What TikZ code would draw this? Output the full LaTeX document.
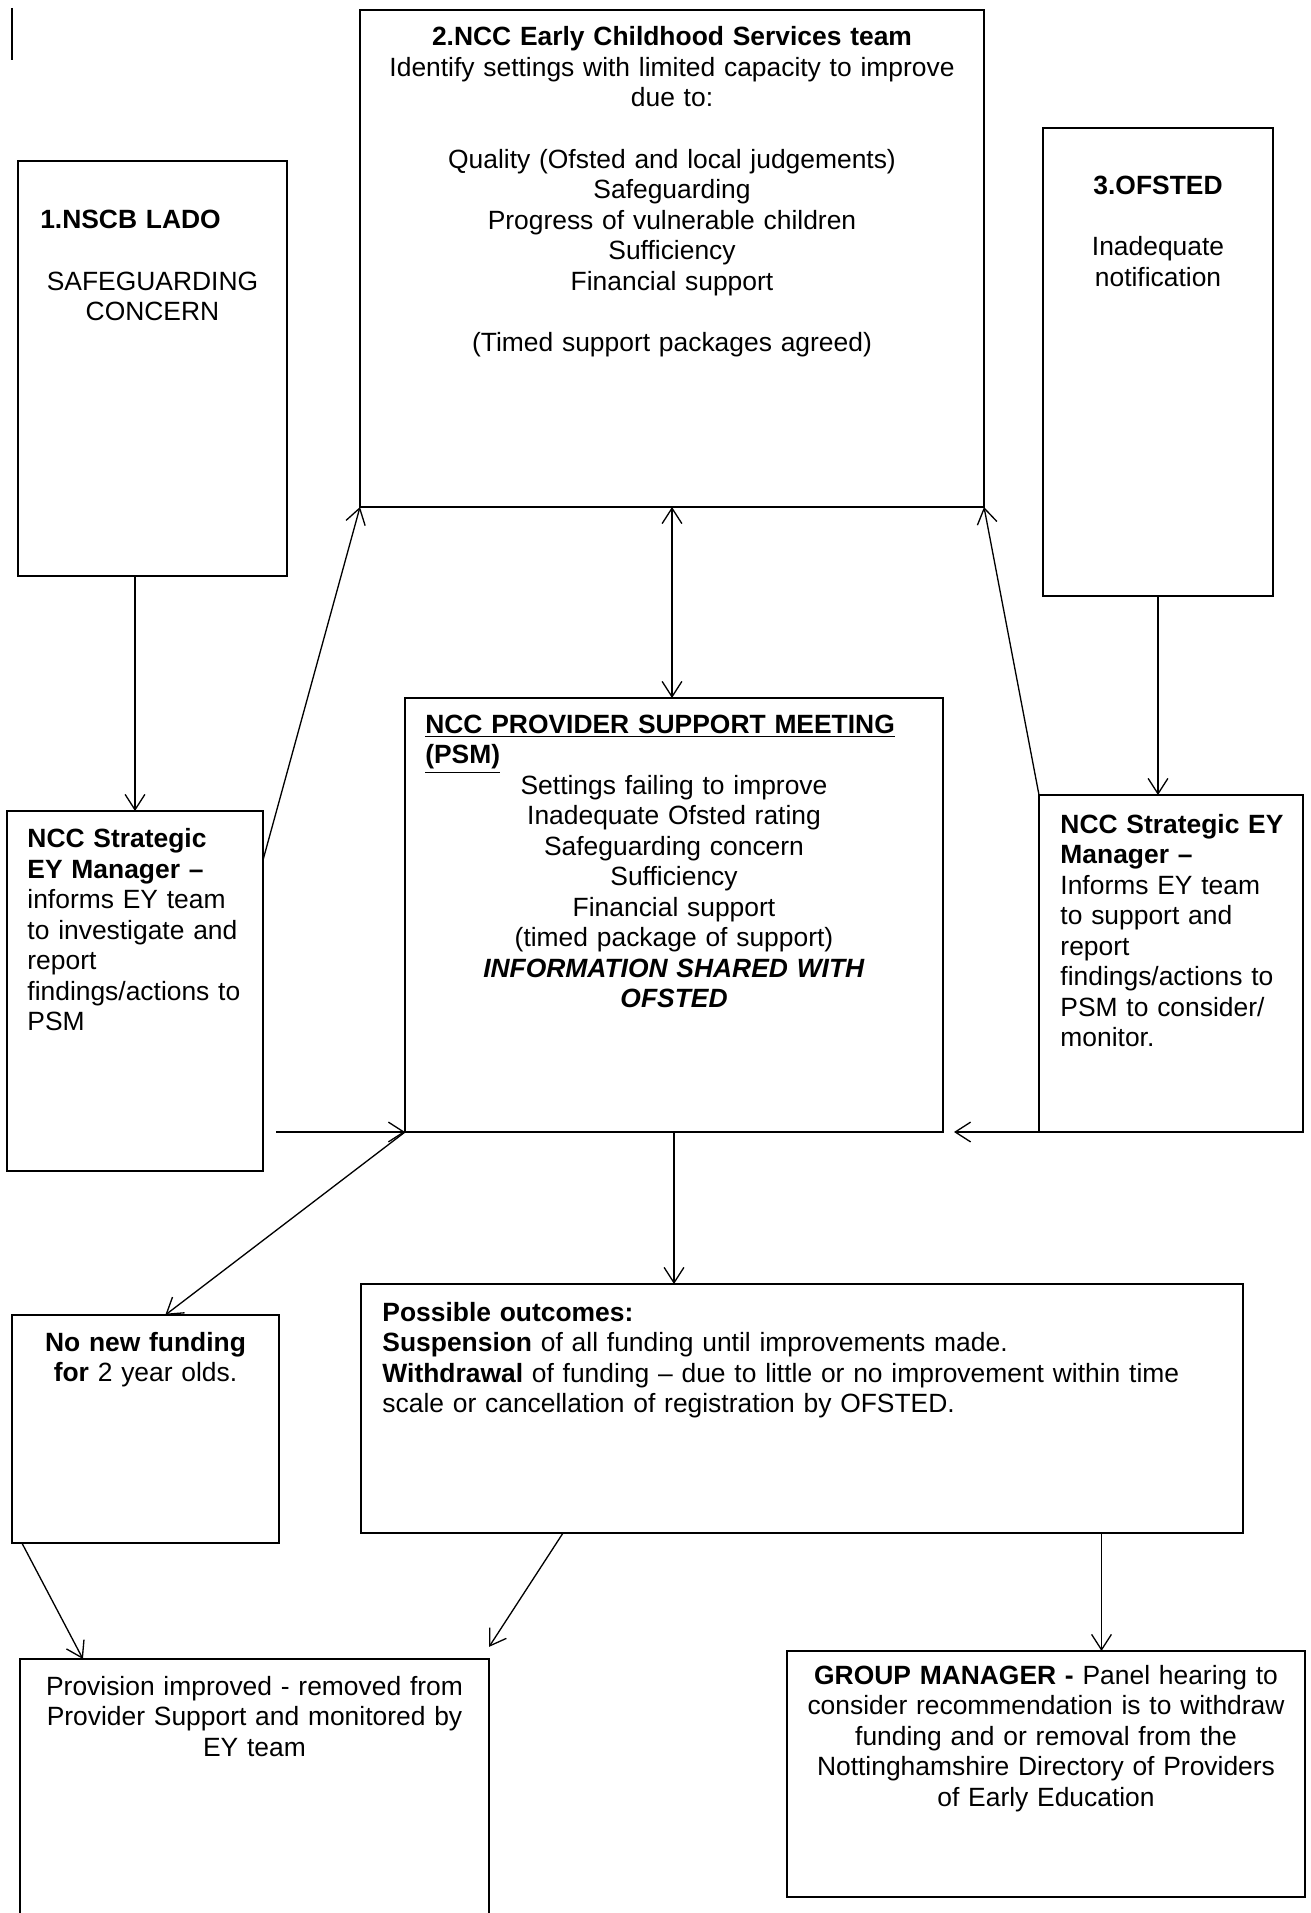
\documentclass[tikz,border=0pt]{standalone}
\usepackage{fontspec}
\setmainfont{Liberation Sans}
\usetikzlibrary{fit,arrows.meta}

\begin{document}
\begin{tikzpicture}[x=0.4544pt,y=-0.4544pt,
  box/.style={draw,line width=0.9pt,inner sep=0pt,outer sep=0pt},
  txt/.style={inner sep=0pt,font=\fontsize{12pt}{13.86pt}\selectfont},
  arr/.style={line width=0.6pt,-{Straight Barb[length=7pt,width=9pt]}},
  arrs/.style={line width=0.6pt,{Straight Barb[length=7pt,width=9pt]}-{Straight Barb[length=7pt,width=9pt]}}]
\useasboundingbox (0,0) rectangle (1310,1913);
%\draw[help lines,step=100] (0,0) grid (1310,1913);
\draw[line width=0.9pt] (12,8) -- (12,60);

% boxes
\node[box,fit={(18,161) (287,576)}] (lado) {};
\node[box,fit={(360,10) (984,507)}] (ncc) {};
\node[box,fit={(1043,128) (1273,596)}] (ofsted) {};
\node[box,fit={(7,811) (263,1171)}] (ladoey) {};
\node[box,fit={(405,698) (943,1132)}] (psm) {};
\node[box,fit={(1039,795) (1303,1132)}] (ofsey) {};
\node[box,fit={(12,1315) (279,1543)}] (nonew) {};
\node[box,fit={(361,1284) (1243,1533)}] (outcomes) {};
\node[box,fit={(20,1659) (489,1930)}] (provision) {};
\node[box,fit={(787,1651) (1305,1897)}] (group) {};

% texts
\node[txt,text width=102pt,align=center,anchor=base] (ladotext) at (152.5,229)
  {\makebox[\linewidth][l]{\textbf{1.NSCB LADO}}\\[13.86pt]
   SAFEGUARDING\\ CONCERN};
\node[txt,text width=272pt,align=center,anchor=base] (ncctext) at (672,46)
  {\textbf{2.NCC Early Childhood Services team}\\
   Identify settings with limited capacity to improve\\
   due to:\\[13.86pt]
   Quality (Ofsted and local judgements)\\
   Safeguarding\\
   Progress of vulnerable children\\
   Sufficiency\\
   Financial support\\[13.86pt]
   (Timed support packages agreed)};
\node[txt,text width=95pt,align=center,anchor=base] (ofstedtext) at (1158,195)
  {\textbf{3.OFSTED}\\[13.86pt] Inadequate\\ notification};
\node[txt,text width=130pt,align=left,anchor=base west] (ladoeytext) at (27,847.5)
  {\textbf{NCC Strategic}\\ \textbf{EY Manager –}\\ informs EY team\\
   to investigate and\\ report\\ findings/actions to\\ PSM};
\node[txt,text width=226pt,align=center,anchor=base] (psmtext) at (674,733)
  {\makebox[\linewidth][l]{\underline{\textbf{NCC PROVIDER SUPPORT MEETING}}}\\
   \makebox[\linewidth][l]{\underline{\textbf{(PSM)}}}\\
   Settings failing to improve\\
   Inadequate Ofsted rating\\
   Safeguarding concern\\
   Sufficiency\\
   Financial support\\
   (timed package of support)\\
   \textbf{\textit{INFORMATION SHARED WITH}}\\
   \textbf{\textit{OFSTED}}};
\node[txt,text width=130pt,align=left,anchor=base west] (ofseytext) at (1060,833)
  {\textbf{NCC Strategic EY}\\ \textbf{Manager –}\\ Informs EY team\\
   to support and\\ report\\ findings/actions to\\ PSM to consider/\\ monitor.};
\node[txt,text width=115pt,align=center,anchor=base] (nonewtext) at (145.5,1351)
  {\textbf{No new funding}\\ \textbf{for} 2 year olds.};
\node[txt,text width=390pt,align=left,anchor=base west] (outcomestext) at (382,1321)
  {\textbf{Possible outcomes:}\\
   \textbf{Suspension} of all funding until improvements made.\\
   \textbf{Withdrawal} of funding – due to little or no improvement within time\\
   scale or cancellation of registration by OFSTED.};
\node[txt,text width=205pt,align=center,anchor=base] (provisiontext) at (254.5,1695)
  {Provision improved - removed from\\ Provider Support and monitored by\\ EY team};
\node[txt,text width=230pt,align=center,anchor=base] (grouptext) at (1046,1684)
  {\textbf{GROUP MANAGER -} Panel hearing to\\
   consider recommendation is to withdraw\\
   funding and or removal from the\\
   Nottinghamshire Directory of Providers\\
   of Early Education};

% arrows
\draw[arr] (ladoey.north |- lado.south) -- (ladoey.north);
\draw[arr] ([yshift=-22.3pt]ladoey.north east) -- (ncc.south west);
\draw[arrs] (ncc.south) -- (ncc.south |- psm.north);
\draw[arr] (ofsted.south) -- (ofsted.south |- ofsey.north);
\draw[arr] (ofsey.north west) -- (ncc.south east);
\draw[arr] ([xshift=6pt]ladoey.east |- psm.south west) -- (psm.south west);
\draw[arr] (ofsey.south west) -- ([xshift=5pt]psm.south east);
\draw[arr] (psm.south west) -- ([xshift=9pt]nonew.north);
\draw[arr] (psm.south) -- (psm.south |- outcomes.north);
\draw[arr] ([xshift=4.5pt]nonew.south west) -- ([xshift=28.6pt]provision.north west);
\draw[arr] ([xshift=91.8pt]outcomes.south west) -- ([yshift=5.5pt]provision.north east);
\coordinate (gm) at ([xshift=-64.3pt]outcomes.south east);
\draw[arr] (gm) -- (gm |- group.north);
\end{tikzpicture}
\end{document}
